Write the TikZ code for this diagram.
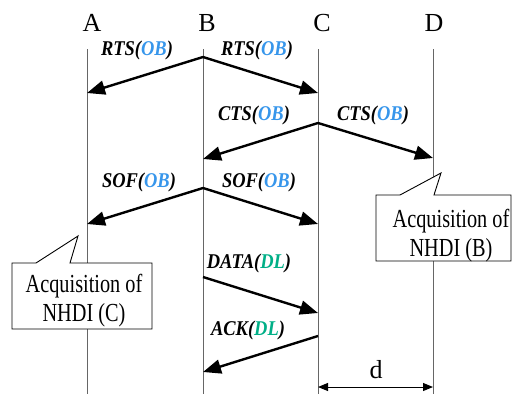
\documentclass[tikz,border=0pt]{standalone}
\usepackage{fontspec}
\setmainfont{Liberation Serif}
\newfontfamily\lblfont{Liberation Serif}[FakeStretch=0.88]
\newfontfamily\boxfont{Liberation Serif}[FakeStretch=0.78]
\usetikzlibrary{arrows.meta}
\definecolor{obblue}{RGB}{55,150,235}
\definecolor{dlgreen}{RGB}{0,175,135}
\tikzset{
  lifeline/.style={draw=black!60, line width=0.9pt},
  msg/.style={line width=2.4pt, -{Triangle[length=18pt,width=14pt]}},
  msglbl/.style={anchor=base, inner sep=0pt, font=\lblfont\bfseries\itshape\fontsize{21}{21}\selectfont},
  station/.style={anchor=base, inner sep=0pt, font=\fontsize{26}{26}\selectfont},
  callout/.style={draw=black, line width=0.9pt, fill=white},
  boxtxt/.style={anchor=base, inner sep=0pt, font=\boxfont\fontsize{26}{26}\selectfont},
  dimline/.style={line width=1pt, {Triangle[length=10pt,width=8pt]}-{Triangle[length=10pt,width=8pt]}}
}
\newcommand{\OB}{\textcolor{obblue}{OB}}
\newcommand{\DL}{\textcolor{dlgreen}{DL}}
\begin{document}
\begin{tikzpicture}[x=1pt,y=-1pt]
\useasboundingbox (0,0) rectangle (512,394);
% station labels
\node[station] (la) at (92,31) {A};
\node[station] (lb) at (207,31) {B};
\node[station] (lc) at (322,31) {C};
\node[station] (ld) at (434,31) {D};
% lifeline end points
\coordinate (at) at (87,49);  \coordinate (ab) at (87,394);
\coordinate (bt) at (203,49); \coordinate (bb) at (203,394);
\coordinate (ct) at (318,49); \coordinate (cb) at (318,394);
\coordinate (dt) at (433,49); \coordinate (db) at (433,394);
\draw[lifeline] (at) -- (ab);
\draw[lifeline] (bt) -- (bb);
\draw[lifeline] (ct) -- (cb);
\draw[lifeline] (dt) -- (db);
% RTS
\coordinate (rts) at (203,57);
\coordinate (rtsA) at (87,93);
\coordinate (rtsC) at (318,93);
\draw[msg] (rts) -- (rtsA);
\draw[msg] (rts) -- (rtsC);
\node[msglbl] (l1) at (137,55) {RTS(\OB)};
\node[msglbl] (l2) at (257,55) {RTS(\OB)};
% CTS
\coordinate (cts) at (318,123);
\coordinate (ctsB) at (203,159);
\coordinate (ctsD) at (433,158);
\draw[msg] (cts) -- (ctsB);
\draw[msg] (cts) -- (ctsD);
\node[msglbl] (l3) at (254,120) {CTS(\OB)};
\node[msglbl] (l4) at (373,120) {CTS(\OB)};
% SOF
\coordinate (sof) at (203,188);
\coordinate (sofA) at (87,224);
\coordinate (sofC) at (318,224);
\draw[msg] (sof) -- (sofA);
\draw[msg] (sof) -- (sofC);
\node[msglbl] (l5) at (139,187) {SOF(\OB)};
\node[msglbl] (l6) at (259,187) {SOF(\OB)};
% DATA
\coordinate (dat) at (203,277);
\coordinate (datC) at (318,313);
\draw[msg] (dat) -- (datC);
\node[msglbl] (l7) at (249,268) {DATA(\DL)};
% ACK
\coordinate (ack) at (318,336);
\coordinate (ackB) at (203,372);
\draw[msg] (ack) -- (ackB);
\node[msglbl] (l8) at (248,335) {ACK(\DL)};
% d dimension
\coordinate (dl) at (318,387);
\coordinate (dr) at (433,387);
\draw[dimline] (dl) -- (dr);
\node[station] (dlab) at (376,378) {d};
% callouts
\draw[callout] (376,195) -- (400,195) -- (441,173) -- (434,195) -- (511,195) -- (511,261) -- (376,261) -- cycle;
\node[boxtxt] (rb1) at (451,227) {Acquisition of};
\node[boxtxt] (rb2) at (451,256) {NHDI (B)};
\draw[callout] (12,263) -- (36,263) -- (78,236) -- (70,263) -- (152,263) -- (152,329) -- (12,329) -- cycle;
\node[boxtxt] (lb1) at (84,292) {Acquisition of};
\node[boxtxt] (lb2) at (84,321) {NHDI (C)};
\end{tikzpicture}
\end{document}
